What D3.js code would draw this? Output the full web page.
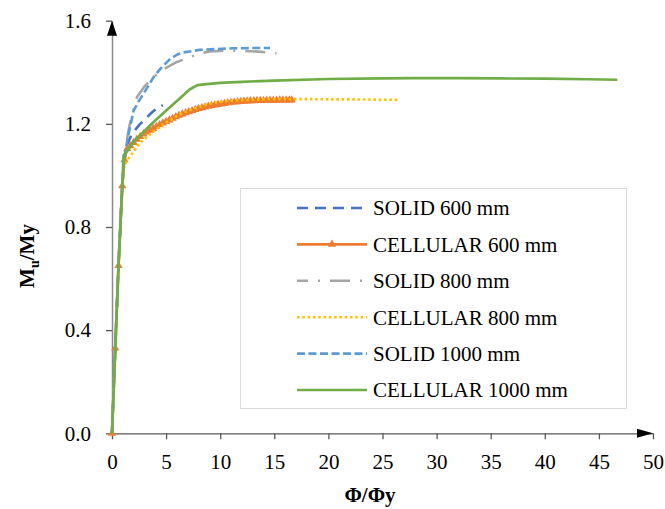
<!DOCTYPE html>
<html>
<head>
<meta charset="utf-8">
<script src="https://cdn.jsdelivr.net/npm/d3@7"></script>
<style>
  html, body { margin: 0; padding: 0; background: #fff; }
  svg { display: block; font-family: "Liberation Serif", "Times New Roman", serif; }
</style>
</head>
<body>
<svg id="chart" width="665" height="509"></svg>
<script>
// Moment–curvature responses, Mu/My against Φ/Φy
const xTicks = [0, 5, 10, 15, 20, 25, 30, 35, 40, 45, 50];
const yTicks = [0.0, 0.4, 0.8, 1.2, 1.6];

const solid600 = [[0,0],[0.3,0.33],[0.6,0.65],[0.95,0.96],[1.1,1.05],[1.4,1.12],[1.84,1.161],[2.5,1.195],[3.07,1.219],[3.7,1.245],[4.3,1.265],[4.7,1.272]];

const cellular600 = [[0,0],[0.3,0.33],[0.6,0.65],[0.95,0.96],[1.15,1.06],[1.4,1.103],[1.7,1.115],[2.0,1.127],[2.3,1.14],[2.6,1.151],[2.9,1.16],[3.2,1.168],[3.5,1.175],[3.8,1.182],[4.1,1.189],[4.4,1.196],[4.7,1.203],[5.0,1.209],[5.3,1.215],[5.6,1.221],[5.9,1.227],[6.2,1.233],[6.5,1.238],[6.8,1.243],[7.1,1.247],[7.4,1.251],[7.7,1.255],[8.0,1.259],[8.3,1.262],[8.6,1.265],[8.9,1.268],[9.2,1.271],[9.5,1.273],[9.8,1.275],[10.1,1.277],[10.4,1.279],[10.7,1.281],[11.0,1.283],[11.3,1.284],[11.6,1.285],[11.9,1.286],[12.2,1.287],[12.5,1.288],[12.8,1.289],[13.1,1.289],[13.4,1.29],[13.7,1.29],[14.0,1.29],[14.3,1.291],[14.6,1.291],[14.9,1.291],[15.2,1.291],[15.5,1.292],[15.8,1.292],[16.1,1.292],[16.4,1.292],[16.6,1.292]];

const solid800 = [[0,0],[0.3,0.33],[0.6,0.65],[0.95,0.96],[1.1,1.05],[1.3,1.12],[1.6,1.19],[2.3,1.303],[3.0,1.345],[4.0,1.387],[5.07,1.419],[6.0,1.44],[7.2,1.458],[8.0,1.472],[9.07,1.481],[10.5,1.484],[11.8,1.484],[13.5,1.48],[15.2,1.474]];

const cellular800 = [[0,0],[0.3,0.33],[0.6,0.65],[0.95,0.96],[1.1,1.03],[1.38,1.058],[1.85,1.084],[2.3,1.112],[2.77,1.133],[3.38,1.155],[4.0,1.175],[5.0,1.205],[6.3,1.238],[7.5,1.258],[8.5,1.272],[9.4,1.282],[10.5,1.288],[12.0,1.292],[14.0,1.295],[16.0,1.296],[18.0,1.296],[20.0,1.295],[22.0,1.295],[24.0,1.294],[26.6,1.293]];

const solid1000 = [[0,0],[0.3,0.33],[0.6,0.65],[0.95,0.96],[1.1,1.05],[1.3,1.11],[1.53,1.161],[2.0,1.251],[2.5,1.29],[2.9,1.316],[3.4,1.35],[3.84,1.381],[4.5,1.415],[5.38,1.452],[6.0,1.468],[6.6,1.477],[8.15,1.487],[9.5,1.49],[11.2,1.493],[13.0,1.494],[14.6,1.494]];

const cellular1000 = [[0,0],[0.3,0.33],[0.6,0.65],[0.95,0.96],[1.07,1.078],[1.5,1.1],[2.0,1.13],[2.5,1.15],[3.0,1.172],[3.8,1.205],[4.5,1.232],[5.3,1.262],[6.2,1.296],[7.2,1.334],[7.9,1.35],[8.5,1.353],[10.0,1.359],[12.0,1.363],[15.0,1.368],[20.0,1.374],[25.0,1.376],[28.0,1.377],[32.0,1.377],[36.0,1.376],[40.0,1.375],[44.0,1.373],[46.7,1.371]];

const seriesNames = ["SOLID 600 mm", "CELLULAR 600 mm", "SOLID 800 mm", "CELLULAR 800 mm", "SOLID 1000 mm", "CELLULAR 1000 mm"];

const series = [
  { name: seriesNames[0], data: solid600,     color: "#4472C4", dash: "11,7",        width: 2.6 },
  { name: seriesNames[1], data: cellular600,  color: "#ED7D31", dash: null,          width: 2.6, marker: true },
  { name: seriesNames[2], data: solid800,     color: "#A5A5A5", dash: "20,10,2,10",  width: 2.6 },
  { name: seriesNames[3], data: cellular800,  color: "#FFC000", dash: "2.5,2.8",     width: 2.6 },
  { name: seriesNames[4], data: solid1000,    color: "#5B9BD5", dash: "8,3.5",       width: 2.6 },
  { name: seriesNames[5], data: cellular1000, color: "#70AD47", dash: null,          width: 2.7 }
];

const svg = d3.select("#chart");
const x = d3.scaleLinear().domain([0, 50]).range([112, 653]);
const y = d3.scaleLinear().domain([0, 1.6]).range([433.3, 20.7]);

// Axes
const xAxis = svg.append("g")
  .attr("transform", `translate(0,${y(0)})`)
  .call(d3.axisBottom(x).tickValues(xTicks).tickFormat(d3.format("d")).tickSize(6).tickSizeOuter(0).tickPadding(15));
xAxis.select(".domain").attr("stroke", "#595959").attr("stroke-width", 1.3);
xAxis.selectAll(".tick line").attr("stroke", "#595959").attr("stroke-width", 1.3);
xAxis.selectAll(".tick text").attr("font-size", 21).attr("fill", "#000")
  .attr("font-family", "Liberation Serif, Times New Roman, serif");

const yAxis = svg.append("g")
  .attr("transform", `translate(${x(0)},0)`)
  .call(d3.axisLeft(y).tickValues(yTicks).tickFormat(d3.format(".1f")).tickSize(6).tickSizeOuter(0).tickPadding(15));
yAxis.select(".domain").attr("stroke", "#8a8a8a").attr("stroke-width", 1.5);
yAxis.selectAll(".tick line").attr("stroke", "#595959").attr("stroke-width", 1.3);
yAxis.selectAll(".tick text").attr("font-size", 21).attr("fill", "#000")
  .attr("font-family", "Liberation Serif, Times New Roman, serif");

// Arrowheads at the ends of both axes
svg.append("path")
  .attr("d", `M${x(0)},${y(1.6)} L${x(0) - 5},${y(1.6) + 15} L${x(0) + 5},${y(1.6) + 15} Z`)
  .attr("fill", "#000");
svg.append("path")
  .attr("d", `M${x(50)},${y(0)} L${x(50) - 16},${y(0) - 4.5} L${x(50) - 16},${y(0) + 4.5} Z`)
  .attr("fill", "#000");

// Axis titles
svg.append("text")
  .attr("x", 370).attr("y", 502)
  .attr("text-anchor", "middle")
  .attr("font-size", 21).attr("font-weight", "bold")
  .text("Φ/Φy");

const yTitle = svg.append("text")
  .attr("transform", "translate(34,256) rotate(-90)")
  .attr("text-anchor", "middle")
  .attr("font-size", 21).attr("font-weight", "bold");
yTitle.append("tspan").text("M");
yTitle.append("tspan").attr("font-size", 14).attr("dy", 5).text("u");
yTitle.append("tspan").attr("dy", -5).text("/My");

// Curves
const line = d3.line().x(d => x(d[0])).y(d => y(d[1]));
const triangle = d3.symbol().type(d3.symbolTriangle).size(30);

series.forEach(s => {
  svg.append("path")
    .datum(s.data)
    .attr("d", line)
    .attr("fill", "none")
    .attr("stroke", s.color)
    .attr("stroke-width", s.width)
    .attr("stroke-dasharray", s.dash)
    .attr("stroke-linejoin", "round");
  if (s.marker) {
    svg.append("g").selectAll("path")
      .data(s.data)
      .join("path")
      .attr("transform", d => `translate(${x(d[0])},${y(d[1])})`)
      .attr("d", triangle)
      .attr("fill", s.color);
  }
});

// Legend
const legend = svg.append("g");
legend.append("rect")
  .attr("x", 240.5).attr("y", 188.5).attr("width", 386).attr("height", 220)
  .attr("fill", "#fff").attr("stroke", "#d9d9d9").attr("stroke-width", 1);

const rowY = d3.scalePoint().domain(seriesNames).range([208, 390]);
series.forEach(s => {
  const cy = rowY(s.name);
  legend.append("line")
    .attr("x1", 297).attr("x2", 367).attr("y1", cy).attr("y2", cy)
    .attr("stroke", s.color).attr("stroke-width", s.width)
    .attr("stroke-dasharray", s.dash)
    .attr("stroke-dashoffset", s.name === seriesNames[2] ? 9 : 0);
  if (s.marker) {
    legend.append("path")
      .attr("transform", `translate(332,${cy})`)
      .attr("d", triangle)
      .attr("fill", s.color);
  }
  legend.append("text")
    .attr("x", 373).attr("y", cy).attr("dy", "0.35em")
    .attr("font-size", 21).attr("fill", "#000")
    .text(s.name);
});
</script>
</body>
</html>
